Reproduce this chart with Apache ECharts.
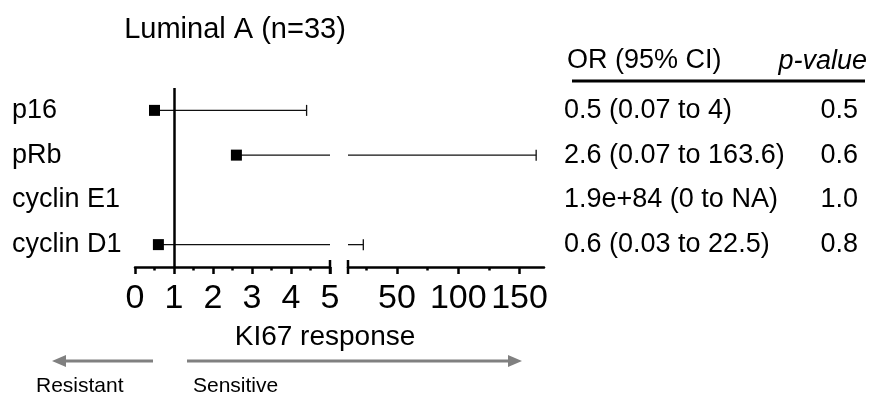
<!DOCTYPE html>
<html lang="en">
<head>
  <meta charset="UTF-8">
  <title>Luminal A forest plot</title>
  <script src="https://cdnjs.cloudflare.com/ajax/libs/echarts/6.0.0/echarts.min.js"></script>
</head>
<body style="margin:0">
  <div id="main" style="width: 875px;height:403px;"></div>
<script type="text/javascript">
  var markers = ['p16', 'pRb', 'cyclin E1', 'cyclin D1'];
  var oddsRatio = [0.5, 2.6, 1.9e84, 0.6];
  var ciLow = [0.07, 0.07, 0, 0.03];
  var ciHigh = [4.4, 163.6, null, 22.5];
  var orText = ['0.5 (0.07 to 4)', '2.6 (0.07 to 163.6)', '1.9e+84 (0 to NA)', '0.6 (0.03 to 22.5)'];
  var pText = ['0.5', '0.6', '1.0', '0.8'];
  var leftTicks = [0, 1, 2, 3, 4, 5];
  var rightTicks = [50, 100, 150];
  var rightMinor = [25, 75, 125];

  var FONT = 'Liberation Sans';
  var app = echarts.init(document.getElementById('main'));

  // the two pieces of the broken axis
  var segLeft = [0, 5];
  var segRight = [10, 170];

  function whiskerData() {
    var out = [];
    for (var i = 0; i < markers.length; i++) {
      if (ciHigh[i] == null || oddsRatio[i] > segRight[1]) continue;
      out.push([oddsRatio[i], ciHigh[i], i]);
    }
    return out;
  }

  function makeWhisker(seg) {
    return function (params, api) {
      var a = Math.max(api.value(0), seg[0]);
      var b = Math.min(api.value(1), seg[1]);
      if (b <= a) return;
      var row = api.value(2);
      var p1 = api.coord([a, row]);
      var p2 = api.coord([b, row]);
      var st = { stroke: '#111', lineWidth: 1.3 };
      var kids = [{ type: 'line', shape: { x1: p1[0], y1: p1[1], x2: p2[0], y2: p2[1] }, style: st }];
      if (api.value(1) <= seg[1]) {
        kids.push({ type: 'line', shape: { x1: p2[0], y1: p2[1] - 5.5, x2: p2[0], y2: p2[1] + 5.5 }, style: st });
      }
      return { type: 'group', children: kids };
    };
  }

  var pointData = [];
  for (var i = 0; i < markers.length; i++) {
    if (oddsRatio[i] <= segLeft[1]) pointData.push([oddsRatio[i], i]);
  }

  var axisLineStyle = { color: '#000', width: 2.5 };
  var tickStyle = { width: 2.5, color: '#000' };
  var catAxis = { type: 'category', data: markers, inverse: true };

  option = {
    animation: false,
    textStyle: { fontFamily: FONT },
    title: [
      { text: 'Luminal A (n=33)', left: 230, top: 10, textAlign: 'center',
        textStyle: { fontFamily: FONT, fontSize: 29, fontWeight: 'normal', color: '#000' } },
      { text: 'KI67 response', left: 320, top: 318, textAlign: 'center',
        textStyle: { fontFamily: FONT, fontSize: 28, fontWeight: 'normal', color: '#000' } }
    ],
    grid: [
      { left: 135, width: 195, top: 88, height: 179 },
      { left: 348, width: 196, top: 88, height: 179 }
    ],
    xAxis: [
      {
        gridIndex: 0, type: 'value', min: segLeft[0], max: segLeft[1], interval: 1,
        splitLine: { show: false },
        axisLine: { show: true, onZero: false, lineStyle: axisLineStyle },
        axisTick: { show: true, length: 7, customValues: leftTicks, lineStyle: tickStyle },
        minorTick: { show: true, splitNumber: 2, length: 3.5, lineStyle: tickStyle },
        axisLabel: { fontSize: 34, color: '#000', margin: 15, fontFamily: FONT,
          customValues: leftTicks }
      },
      {
        gridIndex: 1, type: 'value', min: segRight[0], max: segRight[1],
        splitLine: { show: false },
        axisLine: { show: true, onZero: false, lineStyle: axisLineStyle },
        axisTick: { show: true, length: 7, customValues: rightTicks, lineStyle: tickStyle },
        axisLabel: { fontSize: 34, color: '#000', margin: 15, fontFamily: FONT,
          customValues: rightTicks }
      },
      {
        gridIndex: 1, type: 'value', min: segRight[0], max: segRight[1], position: 'bottom',
        splitLine: { show: false },
        axisLine: { show: false, onZero: false },
        axisTick: { show: true, length: 3.5, customValues: rightMinor, lineStyle: tickStyle },
        axisLabel: { show: false }
      }
    ],
    yAxis: [
      Object.assign({}, catAxis, {
        gridIndex: 0,
        axisLine: { show: false }, axisTick: { show: false },
        axisLabel: { align: 'left', margin: 123, fontSize: 27, color: '#000', fontFamily: FONT }
      }),
      Object.assign({}, catAxis, {
        gridIndex: 1, position: 'right',
        axisLine: { show: false }, axisTick: { show: false },
        axisLabel: { align: 'left', margin: 20, fontSize: 27, color: '#000', fontFamily: FONT,
          formatter: function (v, i) { return orText[i]; } }
      }),
      Object.assign({}, catAxis, {
        gridIndex: 1, position: 'right',
        axisLine: { show: false }, axisTick: { show: false },
        axisLabel: { align: 'right', margin: 314, fontSize: 27, color: '#000', fontFamily: FONT,
          formatter: function (v, i) { return pText[i]; } }
      })
    ],
    series: [
      {
        type: 'custom', xAxisIndex: 0, yAxisIndex: 0,
        renderItem: makeWhisker(segLeft), data: whiskerData(),
        encode: { x: [0, 1], y: 2 }, z: 2
      },
      {
        type: 'custom', xAxisIndex: 1, yAxisIndex: 1,
        renderItem: makeWhisker(segRight), data: whiskerData(),
        encode: { x: [0, 1], y: 2 }, z: 2
      },
      {
        type: 'scatter', xAxisIndex: 0, yAxisIndex: 0,
        symbol: 'rect', symbolSize: 11, itemStyle: { color: '#000', opacity: 1 },
        data: pointData, z: 3,
        markLine: {
          silent: true, symbol: 'none', label: { show: false },
          lineStyle: { color: '#000', width: 2.5, type: 'solid' },
          data: [{ xAxis: 1 }]
        }
      }
    ]
  };
  app.setOption(option);

  // end caps of the broken axis, table header, direction arrows
  var capA = app.convertToPixel({ xAxisIndex: 0 }, segLeft[1]);
  var capB = app.convertToPixel({ xAxisIndex: 1 }, segRight[0]);
  var axisY = 267;
  var grey = '#808080';
  function txt(x, y, s, size, align, extra) {
    return { type: 'text', x: x, y: y, style: Object.assign({ text: s, fill: '#000', fontSize: size,
      fontFamily: FONT, align: align, verticalAlign: 'middle' }, extra || {}) };
  }
  app.setOption({
    graphic: [
      { type: 'line', shape: { x1: capA, y1: axisY - 7, x2: capA, y2: axisY + 7 }, style: { stroke: '#000', lineWidth: 2.5 } },
      { type: 'line', shape: { x1: capB, y1: axisY - 7, x2: capB, y2: axisY + 7 }, style: { stroke: '#000', lineWidth: 2.5 } },
      txt(567, 61, 'OR (95% CI)', 27, 'left'),
      txt(867, 61, 'p-value', 27, 'right', { fontStyle: 'italic' }),
      { type: 'line', shape: { x1: 572, y1: 81, x2: 865, y2: 81 }, style: { stroke: '#000', lineWidth: 3 } },
      { type: 'line', shape: { x1: 64, y1: 361, x2: 153, y2: 361 }, style: { stroke: grey, lineWidth: 3 } },
      { type: 'polygon', shape: { points: [[52, 361], [66, 355], [66, 367]] }, style: { fill: grey } },
      { type: 'line', shape: { x1: 187, y1: 361, x2: 510, y2: 361 }, style: { stroke: grey, lineWidth: 3 } },
      { type: 'polygon', shape: { points: [[522, 361], [508, 355], [508, 367]] }, style: { fill: grey } },
      txt(36, 386, 'Resistant', 21, 'left'),
      txt(193, 386, 'Sensitive', 21, 'left')
    ]
  });
</script>
</body>
</html>
